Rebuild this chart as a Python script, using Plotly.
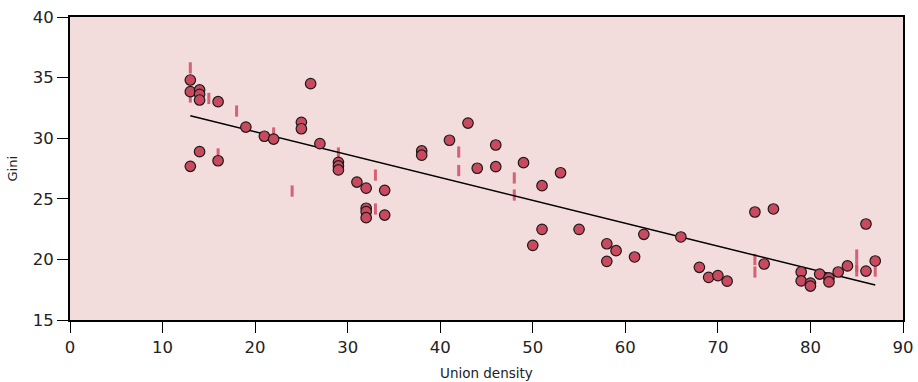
import numpy as np
import plotly.graph_objects as go

# Union density (%) and Gini coefficient, one circle per observation
density = [13, 13, 13, 14, 14, 14, 14, 16, 16, 19, 21, 22, 25, 25, 26, 27,
           29, 29, 29, 31, 32, 32, 32, 32, 34, 34, 38, 38, 41, 43, 44, 46,
           46, 49, 50, 51, 51, 53, 55, 58, 58, 59, 61, 62, 66, 68, 69, 70,
           71, 74, 75, 76, 79, 79, 80, 80, 81, 82, 82, 83, 84, 86, 86, 87]
gini = [34.8, 33.84, 27.68, 33.98, 33.62, 33.15, 28.89, 33.01, 28.14, 30.92,
        30.16, 29.93, 31.31, 30.78, 34.5, 29.55, 28.01, 27.71, 27.38, 26.38,
        25.88, 24.22, 23.94, 23.44, 25.7, 23.66, 28.95, 28.6, 29.83, 31.25,
        27.52, 29.44, 27.65, 27.98, 21.16, 26.08, 22.48, 27.15, 22.48, 21.29,
        19.84, 20.72, 20.2, 22.07, 21.85, 19.35, 18.52, 18.66, 18.2, 23.91,
        19.62, 24.16, 18.96, 18.22, 18.05, 17.8, 18.79, 18.47, 18.14, 18.96,
        19.46, 22.92, 19.04, 19.87]

# Secondary observations shown as short vertical ticks
tick_density = [13, 13, 15, 16, 18, 22, 24, 29, 33, 33, 42, 42, 48, 48,
                74, 74, 85, 85, 85, 87]
tick_gini = [35.8, 33.4, 33.28, 28.7, 32.24, 30.43, 25.64, 28.78, 26.96, 24.16,
             28.86, 27.33, 26.72, 25.31, 19.99, 18.96, 20.36, 19.45, 19.05, 19.04]

# Linear trend: Gini = intercept + slope * density
trend_intercept = 34.31
trend_slope = -0.1888

x_ticks = list(range(0, 91, 10))
y_ticks = list(range(15, 41, 5))

fit_x = np.array([min(density), max(density)])
fit_y = trend_intercept + trend_slope * fit_x

MARK = "#c94a5f"
fig = go.Figure()
fig.add_trace(go.Scatter(
    x=tick_density, y=tick_gini, mode="markers",
    marker=dict(symbol="line-ns", size=8,
                line=dict(color="rgba(208,80,104,0.88)", width=3)),
    hoverinfo="skip"))
fig.add_trace(go.Scatter(
    x=fit_x, y=fit_y, mode="lines",
    line=dict(color="black", width=1.5), hoverinfo="skip"))
fig.add_trace(go.Scatter(
    x=density, y=gini, mode="markers",
    marker=dict(size=10.5, color=MARK, line=dict(color="#1a1a1a", width=1.2))))

font_family = "DejaVu Sans, Verdana, sans-serif"
fig.update_layout(
    width=918, height=382,
    margin=dict(l=70, r=15, t=17, b=62),
    paper_bgcolor="white", plot_bgcolor="#f3dcdc",
    showlegend=False,
    font=dict(family=font_family, color="#222222"),
    annotations=[
        dict(text="Union density", xref="paper", yref="paper",
             x=0.5, y=-0.175, xanchor="center", yanchor="middle",
             showarrow=False, font=dict(size=13.5, color="#222222")),
        dict(text="Gini", xref="paper", yref="paper",
             x=-0.0696, y=0.5, xanchor="center", yanchor="middle",
             textangle=-90, showarrow=False,
             font=dict(size=13, color="#222222")),
    ],
)
fig.update_xaxes(
    range=[0, 90], tickvals=x_ticks, ticktext=[str(v) for v in x_ticks],
    showgrid=False, zeroline=False, automargin=False,
    showline=True, linecolor="black", linewidth=2, mirror=True,
    ticks="outside", ticklen=11, tickwidth=1, tickcolor="black",
    tickfont=dict(size=16.5, color="#222222"),
)
fig.update_yaxes(
    range=[15, 40], tickvals=y_ticks, ticktext=[str(v) for v in y_ticks],
    showgrid=False, zeroline=False, automargin=False,
    showline=True, linecolor="black", linewidth=2, mirror=True,
    ticks="outside", ticklen=11, tickwidth=1, tickcolor="black",
    tickfont=dict(size=16.5, color="#222222"),
)

fig.write_html("out.html")
